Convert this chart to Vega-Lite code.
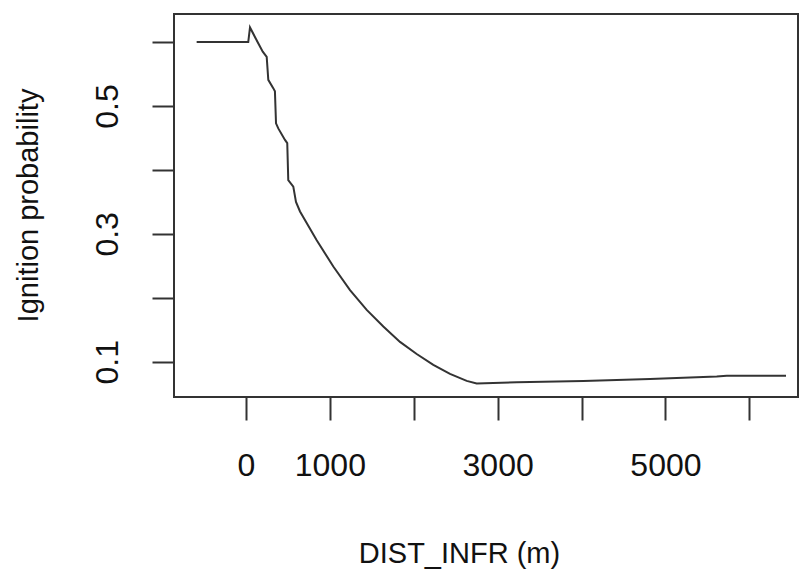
{
  "$schema": "https://vega.github.io/schema/vega-lite/v6.json",
  "width": 624,
  "height": 383,
  "autosize": {"type": "none"},
  "padding": {"left": 174, "top": 14, "right": 2, "bottom": 173},
  "background": "white",
  "config": {
    "view": {"stroke": "#333333", "strokeWidth": 2},
    "font": "Liberation Sans"
  },
  "data": {
    "values": [
      {"dist": -588, "p": 0.600},
      {"dist": 27, "p": 0.600},
      {"dist": 48, "p": 0.623},
      {"dist": 135, "p": 0.601},
      {"dist": 200, "p": 0.585},
      {"dist": 247, "p": 0.577},
      {"dist": 266, "p": 0.541},
      {"dist": 325, "p": 0.528},
      {"dist": 345, "p": 0.523},
      {"dist": 358, "p": 0.473},
      {"dist": 385, "p": 0.465},
      {"dist": 465, "p": 0.447},
      {"dist": 492, "p": 0.442},
      {"dist": 504, "p": 0.384},
      {"dist": 564, "p": 0.374},
      {"dist": 596, "p": 0.350},
      {"dist": 644, "p": 0.335},
      {"dist": 843, "p": 0.290},
      {"dist": 1041, "p": 0.249},
      {"dist": 1240, "p": 0.212},
      {"dist": 1439, "p": 0.181},
      {"dist": 1637, "p": 0.155},
      {"dist": 1836, "p": 0.131},
      {"dist": 2035, "p": 0.112},
      {"dist": 2233, "p": 0.095},
      {"dist": 2432, "p": 0.081},
      {"dist": 2631, "p": 0.070},
      {"dist": 2750, "p": 0.066},
      {"dist": 3227, "p": 0.068},
      {"dist": 4021, "p": 0.070},
      {"dist": 4816, "p": 0.073},
      {"dist": 5611, "p": 0.077},
      {"dist": 5730, "p": 0.078},
      {"dist": 6437, "p": 0.078}
    ]
  },
  "mark": {"type": "line", "color": "#333333", "strokeWidth": 2, "clip": true},
  "encoding": {
    "x": {
      "field": "dist",
      "type": "quantitative",
      "scale": {"domain": [-858, 6580], "nice": false, "zero": false},
      "axis": {
        "values": [0, 1000, 2000, 3000, 4000, 5000, 6000],
        "labelExpr": "(datum.value == 0 || datum.value == 1000 || datum.value == 3000 || datum.value == 5000) ? datum.label : ''",
        "format": "d",
        "grid": false,
        "domain": false,
        "tickSize": 23,
        "tickColor": "#333333",
        "tickWidth": 2,
        "labelFontSize": 32,
        "labelColor": "#111111",
        "labelPadding": 30,
        "labelFlush": false,
        "labelOverlap": false,
        "title": "DIST_INFR (m)",
        "titleFontSize": 29,
        "titleFontWeight": "normal",
        "titleColor": "#111111",
        "titleX": 285,
        "titleY": 165,
        "titleAlign": "center",
        "titleBaseline": "alphabetic"
      }
    },
    "y": {
      "field": "p",
      "type": "quantitative",
      "scale": {"domain": [0.0448, 0.644], "nice": false, "zero": false},
      "axis": {
        "values": [0.1, 0.2, 0.3, 0.4, 0.5, 0.6],
        "labelExpr": "(round(datum.value * 10) % 2 == 1) ? datum.label : ''",
        "format": ".1f",
        "grid": false,
        "domain": false,
        "tickSize": 22,
        "tickColor": "#333333",
        "tickWidth": 2,
        "labelAngle": -90,
        "labelAlign": "center",
        "labelBaseline": "alphabetic",
        "labelFontSize": 32,
        "labelColor": "#111111",
        "labelPadding": 35,
        "labelFlush": false,
        "labelOverlap": false,
        "title": "Ignition probability",
        "titleFontSize": 29,
        "titleFontWeight": "normal",
        "titleColor": "#111111",
        "titleAngle": -90,
        "titleX": -137,
        "titleY": 191,
        "titleAlign": "center",
        "titleBaseline": "alphabetic"
      }
    }
  }
}
